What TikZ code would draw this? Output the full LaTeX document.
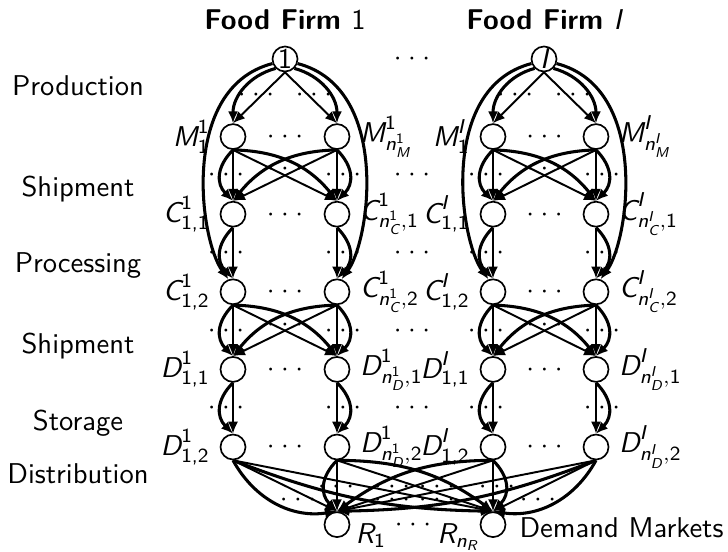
\documentclass[tikz,border=0pt]{standalone}
\usepackage{amsmath}
\usetikzlibrary{arrows.meta}
\renewcommand{\familydefault}{\sfdefault}
\newcommand{\vi}[1]{\text{\normalfont\itshape #1}}
\newcommand{\vu}[1]{\text{\normalfont #1}}
\newcommand{\hd}{$\mathord{\cdot}\kern2.4pt\mathord{\cdot}\kern2.4pt\mathord{\cdot}$}
\begin{document}
\begin{tikzpicture}[x=0.36pt,y=0.36pt,
  font=\fontsize{10.3}{12.4}\selectfont,
  nd/.style={circle,draw,line width=0.6pt,minimum size=9pt,inner sep=0pt},
  st/.style={line width=0.7pt,-{Latex[length=4.3pt,width=3.6pt]}},
  cv/.style={line width=1.1pt,-{Latex[length=4.3pt,width=3.6pt]}},
  rowlab/.style={anchor=base},
  dts/.style={inner sep=0pt,text height=0pt,text depth=0pt,yshift=-2.5pt},
  label distance=0pt]
\useasboundingbox (0,0) rectangle (728,551);

% titles
\node[anchor=base] (t1) at (285,521) {\bfseries Food Firm $\vu{1}$};
\node[anchor=base] (tI) at (544,521) {\bfseries Food Firm $\vi{I}$};

% row labels
\node[rowlab] (lProd) at (78,455) {Production};
\node[rowlab] (lShip1) at (78,354) {Shipment};
\node[rowlab] (lProc) at (78,278) {Processing};
\node[rowlab] (lShip2) at (78,198) {Shipment};
\node[rowlab] (lStor) at (78,121) {Storage};
\node[rowlab] (lDist) at (78,68) {Distribution};

% top nodes
\node[nd] (f1) at (285,492) {$\vu{1}$};
\node[nd] (fI) at (544,492) {$\vi{I}$};

% firm 1
\node[nd,label={left:$\vi{M}^{\vu{1}}_{\vu{1}}$}] (m1L) at (233,414.4) {};
\node[nd,label={right:$\vi{M}^{\vu{1}}_{\vi{n}^{\vu{1}}_{\vi{M}}}$}] (m1R) at (337,414.4) {};
\node[nd,label={left:$\vi{C}^{\vu{1}}_{\vu{1,1}}$}] (p1L) at (233,336.8) {};
\node[nd,label={right:$\vi{C}^{\vu{1}}_{\vi{n}^{\vu{1}}_{\vi{C}},\vu{1}}$}] (p1R) at (337,336.8) {};
\node[nd,label={left:$\vi{C}^{\vu{1}}_{\vu{1,2}}$}] (q1L) at (233,259.2) {};
\node[nd,label={right:$\vi{C}^{\vu{1}}_{\vi{n}^{\vu{1}}_{\vi{C}},\vu{2}}$}] (q1R) at (337,259.2) {};
\node[nd,label={left:$\vi{D}^{\vu{1}}_{\vu{1,1}}$}] (s1L) at (233,181.6) {};
\node[nd,label={right:$\vi{D}^{\vu{1}}_{\vi{n}^{\vu{1}}_{\vi{D}},\vu{1}}$}] (s1R) at (337,181.6) {};
\node[nd,label={left:$\vi{D}^{\vu{1}}_{\vu{1,2}}$}] (t1L) at (233,104) {};
\node[nd,label={right:$\vi{D}^{\vu{1}}_{\vi{n}^{\vu{1}}_{\vi{D}},\vu{2}}$}] (t1R) at (337,104) {};

% firm I
\node[nd,label={left:$\vi{M}^{\vi{I}}_{\vu{1}}$}] (mIL) at (493,414.4) {};
\node[nd,label={right:$\vi{M}^{\vi{I}}_{\vi{n}^{\vi{I}}_{\vi{M}}}$}] (mIR) at (596,414.4) {};
\node[nd,label={left:$\vi{C}^{\vi{I}}_{\vu{1,1}}$}] (pIL) at (493,336.8) {};
\node[nd,label={right:$\vi{C}^{\vi{I}}_{\vi{n}^{\vi{I}}_{\vi{C}},\vu{1}}$}] (pIR) at (596,336.8) {};
\node[nd,label={left:$\vi{C}^{\vi{I}}_{\vu{1,2}}$}] (qIL) at (493,259.2) {};
\node[nd,label={right:$\vi{C}^{\vi{I}}_{\vi{n}^{\vi{I}}_{\vi{C}},\vu{2}}$}] (qIR) at (596,259.2) {};
\node[nd,label={left:$\vi{D}^{\vi{I}}_{\vu{1,1}}$}] (sIL) at (493,181.6) {};
\node[nd,label={right:$\vi{D}^{\vi{I}}_{\vi{n}^{\vi{I}}_{\vi{D}},\vu{1}}$}] (sIR) at (596,181.6) {};
\node[nd,label={left:$\vi{D}^{\vi{I}}_{\vu{1,2}}$}] (tIL) at (493,104) {};
\node[nd,label={right:$\vi{D}^{\vi{I}}_{\vi{n}^{\vi{I}}_{\vi{D}},\vu{2}}$}] (tIR) at (596,104) {};

% demand markets
\node[nd] (R1) at (337,26.4) {};
\node[nd] (Rn) at (493,26.4) {};
\node[anchor=base west,inner sep=0pt] (lR1) at ([shift={(18,-18.4)}]R1.center) {$\vi{R}_{\vu{1}}$};
\node[anchor=base east,inner sep=0pt] (lRn) at ([shift={(-13,-18.4)}]Rn.center) {$\vi{R}_{\vi{n}_{\vi{R}}}$};
\node[anchor=base west,inner sep=0pt] (dm) at ([shift={(26,-12.4)}]Rn.center) {Demand Markets};

% edges per firm
\foreach \fm in {1,I} {
  % production
  \draw[st] (f\fm.south) -- (m\fm L.north);
  \draw[st] (f\fm.south) -- (m\fm R.north);
  \draw[cv] (f\fm.225) to[out=195,in=90] (m\fm L.north);
  \draw[cv] (f\fm.-45) to[out=-15,in=90] (m\fm R.north);
  \draw[cv] (f\fm.200) .. controls +(-93,-24) and +(-29,40) .. (q\fm L.110);
  \draw[cv] (f\fm.-20) .. controls +(93,-24) and +(29,40) .. (q\fm R.70);
  % shipment M -> C1 and C2 -> D1
  \foreach \a/\b in {m/p,q/s} {
    \draw[st] (\a\fm L.south) -- (\b\fm L.north);
    \draw[st] (\a\fm R.south) -- (\b\fm R.north);
    \draw[st] (\a\fm L.south) -- (\b\fm R.north);
    \draw[st] (\a\fm R.south) -- (\b\fm L.north);
    \draw[cv] (\a\fm L.south) to[bend right=45,looseness=1.2] (\b\fm L.north);
    \draw[cv] (\a\fm R.south) to[bend left=45,looseness=1.2] (\b\fm R.north);
    \draw[cv] (\a\fm L.south) to[bend left=25] (\b\fm R.north);
    \draw[cv] (\a\fm R.south) to[bend right=25] (\b\fm L.north);
  }
  % processing and storage
  \foreach \a/\b in {p/q,s/t} {
    \draw[st] (\a\fm L.south) -- (\b\fm L.north);
    \draw[st] (\a\fm R.south) -- (\b\fm R.north);
    \draw[cv] (\a\fm L.south) to[bend right=45,looseness=1.2] (\b\fm L.north);
    \draw[cv] (\a\fm R.south) to[bend left=45,looseness=1.2] (\b\fm R.north);
  }
}

% distribution
\draw[st] (t1L.south) -- (R1.north);
\draw[cv] (t1L.south) to[bend right=35] (R1.north);
\draw[st] (t1L.south) -- (Rn.north);
\draw[cv] (t1L.south) to[bend right=10] (Rn.north);
\draw[st] (t1R.south) -- (R1.north);
\draw[cv] (t1R.south) to[bend right=45,looseness=1.2] (R1.north);
\draw[st] (t1R.south) -- (Rn.north);
\draw[cv] (t1R.south) to[bend left=18] (Rn.north);
\draw[st] (tIL.south) -- (R1.north);
\draw[cv] (tIL.south) to[bend right=18] (R1.north);
\draw[st] (tIL.south) -- (Rn.north);
\draw[cv] (tIL.south) to[bend left=45,looseness=1.2] (Rn.north);
\draw[st] (tIR.south) -- (R1.north);
\draw[cv] (tIR.south) to[bend left=10] (R1.north);
\draw[st] (tIR.south) -- (Rn.north);
\draw[cv] (tIR.south) to[bend left=35] (Rn.north);

% ellipses
\foreach \x/\y [count=\i] in {
  412/492, 413/26.4,
  285/414.4, 285/336.8, 285/259.2, 285/181.6, 285/104,
  544.5/414.4, 544.5/336.8, 544.5/259.2, 544.5/181.6, 544.5/104,
  412/376, 412/298, 412/220.4, 412/143,
  256/456, 314/456, 515/456, 573/456,
  226/376, 343/376, 285/382, 486/376, 602/376, 544.5/382,
  226/298, 343/298, 486/298, 602/298,
  226/220.4, 343/220.4, 285/226, 486/220.4, 602/220.4, 544.5/226,
  226/143, 343/143, 486/143, 602/143,
  298/51, 336/64, 392/64, 437/64, 497/64, 392/51, 437/51, 538/51} {
  \node[dts] (dt\i) at (\x,\y) {\hd};
}
\end{tikzpicture}
\end{document}
